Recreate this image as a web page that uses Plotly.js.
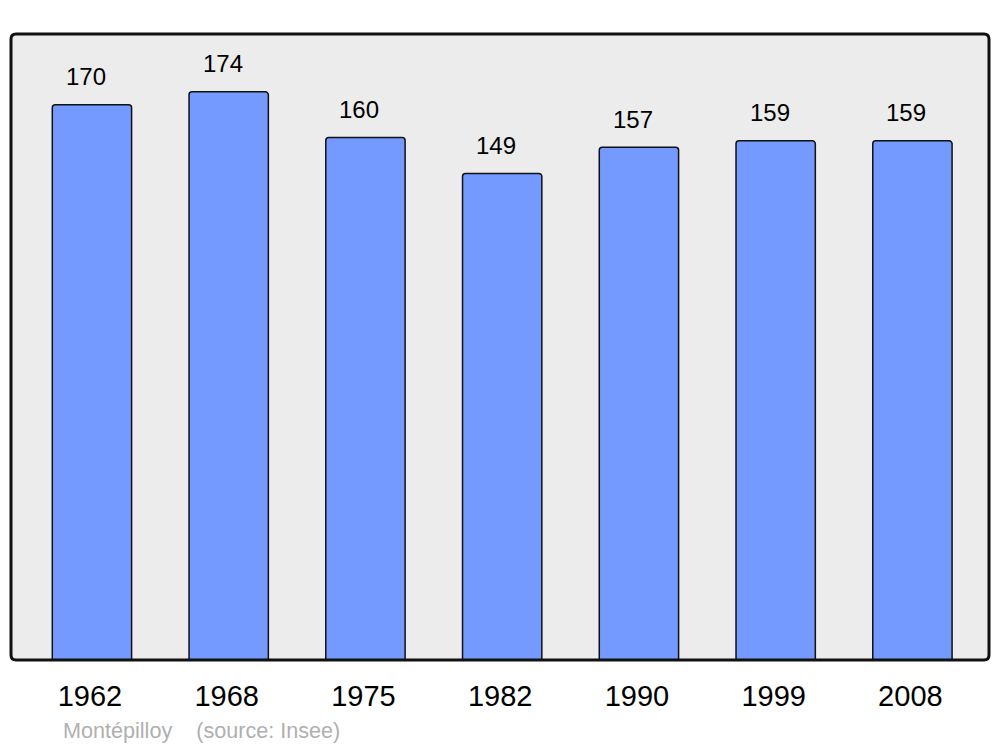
<!DOCTYPE html>
<html><head><meta charset="utf-8">
<script src="https://cdn.plot.ly/plotly-3.0.1.min.js"></script>
<style>html,body{margin:0;padding:0;background:#fff}#c{width:1000px;height:747px}</style>
</head><body><div id="c"></div>
<script>
const years = ["1962","1968","1975","1982","1990","1999","2008"];
const population = [170,174,160,149,157,159,159];
const sourceText = "Montépilloy    (source: Insee)";

const xs = years.map((_, i) => i);
const W = 1000, H = 747, L = 11, R = 11, T = 34, B = 87;
const pw = W - L - R, ph = H - T - B;
const rx = 5 / pw, ry = 5 / ph;
const framePath = `M ${rx},0 L ${1-rx},0 Q 1,0 1,${ry} L 1,${1-ry} Q 1,1 ${1-rx},1 L ${rx},1 Q 0,1 0,${1-ry} L 0,${ry} Q 0,0 ${rx},0 Z`;

const trace = {
  type: 'bar', x: xs, y: population, width: 0.58,
  marker: {color: '#7499ff', line: {color: '#111', width: 1.5}, cornerradius: 3},
  hoverinfo: 'none'
};
const annotations = xs.map((x, i) => ({
  x: x, y: population[i], xref: 'x', yref: 'y', text: String(population[i]),
  showarrow: false, xshift: -6, yshift: 28, yanchor: 'middle',
  font: {family: 'Liberation Sans, Arial, sans-serif', size: 24, color: '#000'}
}));
annotations.push({
  xref: 'paper', yref: 'paper', x: 50/pw, y: -(730-660)/ph, xanchor: 'left', yanchor: 'middle',
  text: sourceText, showarrow: false,
  font: {family: 'Liberation Sans, Arial, sans-serif', size: 21.6, color: '#b0b0b0'}
});
const layout = {
  width: W, height: H, margin: {l: L, r: R, t: T, b: B, pad: 0},
  paper_bgcolor: '#ffffff', plot_bgcolor: '#ececec', showlegend: false,
  xaxis: {range: [-0.592, 6.56], tickvals: xs.map(x => x - 0.015), ticktext: years, showgrid: false, zeroline: false,
    showline: false, ticks: '', ticklabelstandoff: 16,
    tickfont: {family: 'Liberation Sans, Arial, sans-serif', size: 29, color: '#000'}},
  yaxis: {range: [0, 191.7], showgrid: false, zeroline: false, showticklabels: false, showline: false},
  shapes: [{type: 'path', xref: 'paper', yref: 'paper', path: framePath,
    line: {color: '#111', width: 3}, fillcolor: 'rgba(0,0,0,0)', layer: 'above'}],
  annotations: annotations
};
Plotly.newPlot('c', [trace], layout, {staticPlot: true});
</script></body></html>
